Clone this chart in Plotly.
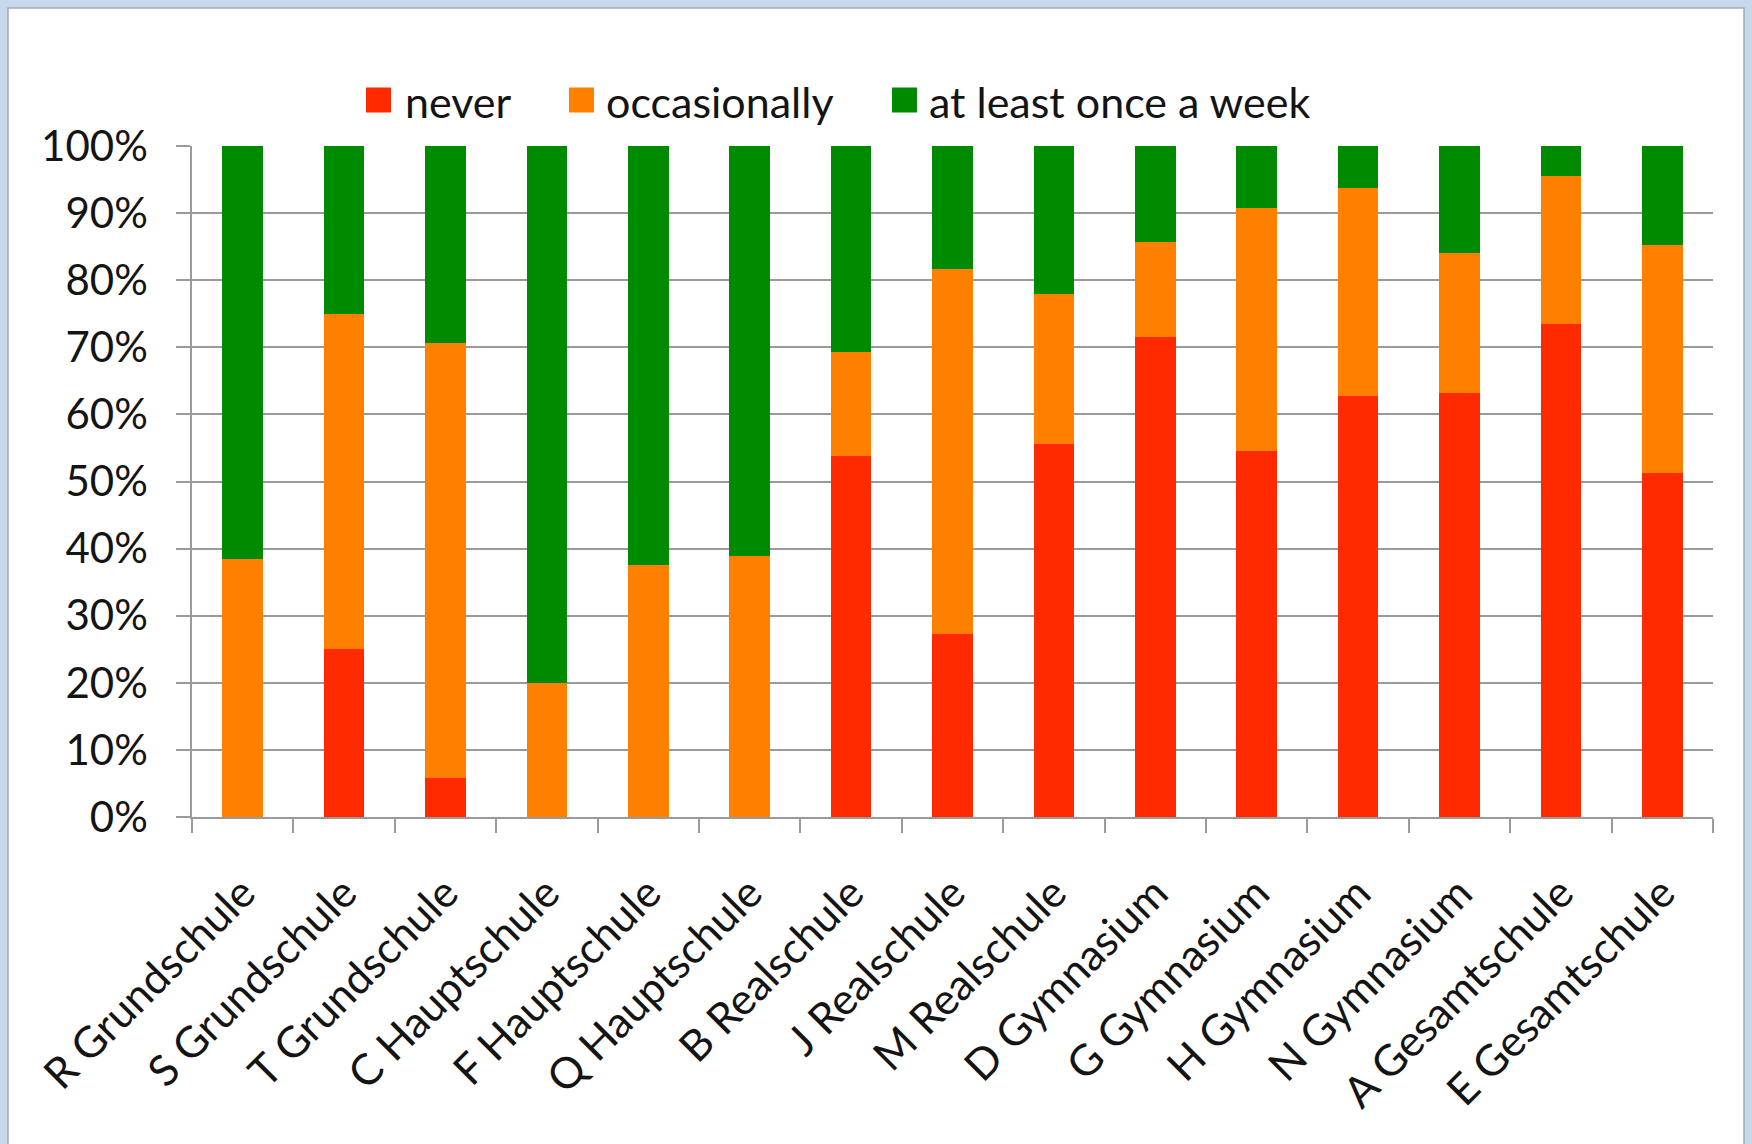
import plotly.graph_objects as go

# School survey: how often pupils do the activity (share of respondents)
schools = [
    "R Grundschule", "S Grundschule", "T Grundschule",
    "C Hauptschule", "F Hauptschule", "Q Hauptschule",
    "B Realschule", "J Realschule", "M Realschule",
    "D Gymnasium", "G Gymnasium", "H Gymnasium", "N Gymnasium",
    "A Gesamtschule", "E Gesamtschule",
]
never = [0.0, 25.0, 5.8, 0.0, 0.0, 0.0, 53.8, 27.3, 55.6,
         71.5, 54.6, 62.7, 63.2, 73.5, 51.3]
occasionally = [38.5, 50.0, 64.9, 20.0, 37.6, 38.9, 15.5, 54.4, 22.3,
                14.2, 36.2, 31.1, 20.9, 22.1, 34.0]
weekly = [61.5, 25.0, 29.3, 80.0, 62.4, 61.1, 30.7, 18.3, 22.1,
          14.3, 9.2, 6.2, 15.9, 4.4, 14.7]

series_names = ["never", "occasionally", "at least once a week"]
series_values = [never, occasionally, weekly]
series_colors = ["#ff2a00", "#ff8000", "#008a00"]
y_ticks = [0, 10, 20, 30, 40, 50, 60, 70, 80, 90, 100]

W, H = 1752, 1144
M_L, M_R, M_T, M_B = 192, 39, 146, 327
PLOT_W = W - M_L - M_R
PLOT_H = H - M_T - M_B
FONT = "Lato, 'Open Sans', sans-serif"
TEXT = "#141414"


def px_x(px):
    return (px - M_L) / PLOT_W


def px_y(py):
    return 1 - (py - M_T) / PLOT_H


fig = go.Figure()
for name, vals, col in zip(series_names, series_values, series_colors):
    fig.add_trace(go.Bar(
        x=schools, y=vals, name=name,
        marker=dict(color=col, line=dict(width=0)),
        showlegend=False,
    ))

# Legend drawn as square swatches with labels above the plot
legend_swatch_left = [366, 569, 892]
legend_text_left = [403, 604, 927]
swatch = 25
legend_mid = 100
shapes = []
annotations = []
for name, col, sx, tx in zip(series_names, series_colors,
                             legend_swatch_left, legend_text_left):
    shapes.append(dict(
        type="rect", xref="paper", yref="paper",
        x0=px_x(sx), x1=px_x(sx + swatch),
        y0=px_y(legend_mid + swatch / 2), y1=px_y(legend_mid - swatch / 2),
        fillcolor=col, line=dict(width=0), layer="above",
    ))
    annotations.append(dict(
        text=name, xref="paper", yref="paper",
        x=px_x(tx), y=px_y(legend_mid + 2), xanchor="left", yanchor="middle",
        showarrow=False, font=dict(family=FONT, size=43, color=TEXT),
    ))

# Pale blue frame around a white chart panel
shapes.insert(0, dict(
    type="rect", xref="paper", yref="paper",
    x0=px_x(8), x1=px_x(1744), y0=px_y(H + 20), y1=px_y(8),
    fillcolor="white", line=dict(color="#a3abb6", width=1.5), layer="below",
))

fig.update_layout(
    width=W, height=H,
    barmode="stack", bargap=0.6,
    paper_bgcolor="#c7d8ec", plot_bgcolor="rgba(0,0,0,0)",
    margin=dict(l=M_L, r=M_R, t=M_T, b=M_B, autoexpand=False),
    font=dict(family=FONT, size=42, color=TEXT),
    shapes=shapes, annotations=annotations,
    showlegend=False,
)
fig.update_yaxes(
    range=[0, 100], tickvals=y_ticks,
    ticktext=[f"{v}%" for v in y_ticks],
    showgrid=True, gridcolor="#9a9a9a", gridwidth=1.5,
    showline=True, linecolor="#9a9a9a", linewidth=1.5,
    ticks="outside", ticklen=14, tickcolor="#9a9a9a", tickwidth=1.5,
    tickfont=dict(size=42), ticklabelstandoff=20, zeroline=False,
)
fig.update_xaxes(
    tickangle=-45, tickson="boundaries",
    ticks="outside", ticklen=14, tickcolor="#9a9a9a", tickwidth=1.5,
    showline=True, linecolor="#9a9a9a", linewidth=1.5,
    showgrid=False, tickfont=dict(size=43), ticklabelstandoff=32,
)

fig.write_html("out.html")
